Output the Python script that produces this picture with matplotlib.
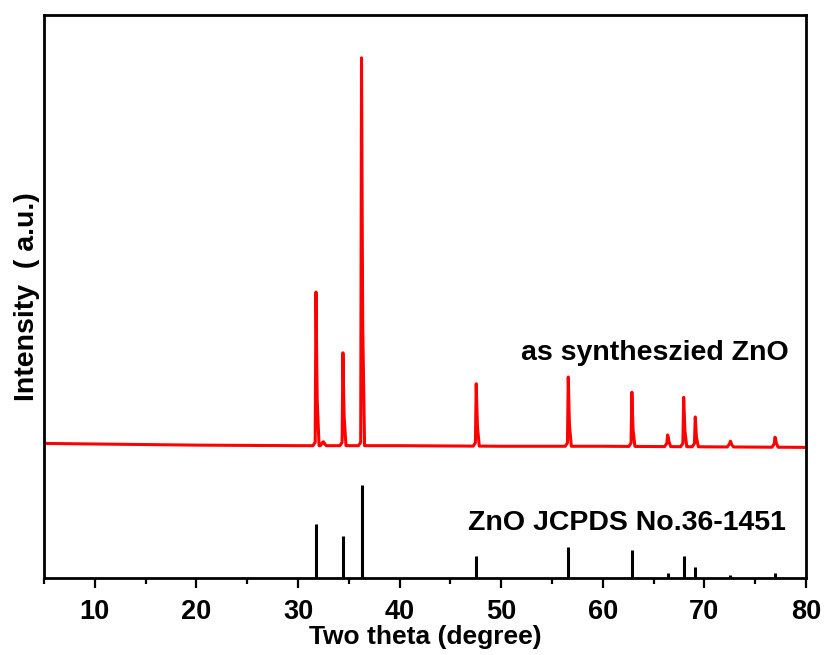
import numpy as np
import matplotlib
matplotlib.use("Agg")
import matplotlib.pyplot as plt
from matplotlib.ticker import MultipleLocator

bg_x = [5, 10, 20, 30, 40, 50, 60, 70, 80]
bg_y = [23.9, 23.8, 23.6, 23.5, 23.5, 23.4, 23.4, 23.3, 23.2]

peak_pos = [31.77, 32.5, 34.42, 36.25, 47.54, 56.60, 62.86, 66.38, 67.96, 69.10, 72.56, 76.95]
peak_top = [50.8, 24.2, 40.0, 92.4, 34.5, 35.7, 33.0, 25.4, 32.1, 28.6, 24.3, 25.0]
peak_sh = [36.9, 24.0, 32.1, 58.8, 29.3, 29.5, 28.2, 24.9, 28.1, 26.1, 24.0, 24.5]

# JCPDS 36-1451 reference lines
ref_pos = [31.77, 34.42, 36.25, 47.54, 56.60, 62.86, 66.38, 67.96, 69.10, 72.56, 76.95]
ref_int = [9.6, 7.5, 16.5, 3.9, 5.5, 5.0, 0.9, 3.9, 2.0, 0.5, 0.9]

# build polyline of the measured curve
xs, ys = [], []
for p, t, s in zip(peak_pos, peak_top, peak_sh):
    b = np.interp(p, bg_x, bg_y)
    xs += [p - 0.3, p - 0.08, p, p + 0.08, p + 0.12, p + 0.3]
    ys += [b, b + 0.6, t, s, s - (s - b) * 0.4, b]
allx = np.array(bg_x + xs)
ally = np.array(bg_y + ys)
order = np.argsort(allx, kind="stable")
allx, ally = allx[order], ally[order]

fig = plt.figure(figsize=(8.26, 6.55), dpi=100)
ax = fig.add_axes([0.0533, 0.1176, 0.9225, 0.8594])

ax.plot(allx, ally, color="#ff0000", lw=2.2, solid_joinstyle="round")
ax.vlines(ref_pos, 0, ref_int, color="black", lw=2.2)

ax.set_xlim(5, 80)
ax.set_ylim(0, 100)
ax.set_yticks([])
ax.xaxis.set_major_locator(MultipleLocator(10))
ax.xaxis.set_minor_locator(MultipleLocator(5))
ax.tick_params(axis="x", which="major", length=7, width=1.6, direction="out", pad=8)
ax.tick_params(axis="x", which="minor", length=4, width=1.6, direction="out")
for sp in ax.spines.values():
    sp.set_linewidth(2)

fam = ["Liberation Sans", "DejaVu Sans"]
for lab in ax.get_xticklabels():
    lab.set_fontfamily(fam)
    lab.set_fontweight("bold")
    lab.set_fontsize(19.5)

ax.set_xlabel("Two theta (degree)", family=fam, fontweight="bold", fontsize=19, labelpad=0)
ax.set_ylabel("Intensity  ( a.u.)", family=fam, fontweight="bold", fontsize=20.5, labelpad=3)

ax.text(0.802, 0.40, "as syntheszied ZnO", transform=ax.transAxes, ha="center",
        va="center", family=fam, fontweight="bold", fontsize=20.5)
ax.text(0.765, 0.098, "ZnO JCPDS No.36-1451", transform=ax.transAxes, ha="center",
        va="center", family=fam, fontweight="bold", fontsize=20.5)

fig.savefig("out.png", dpi=100)
